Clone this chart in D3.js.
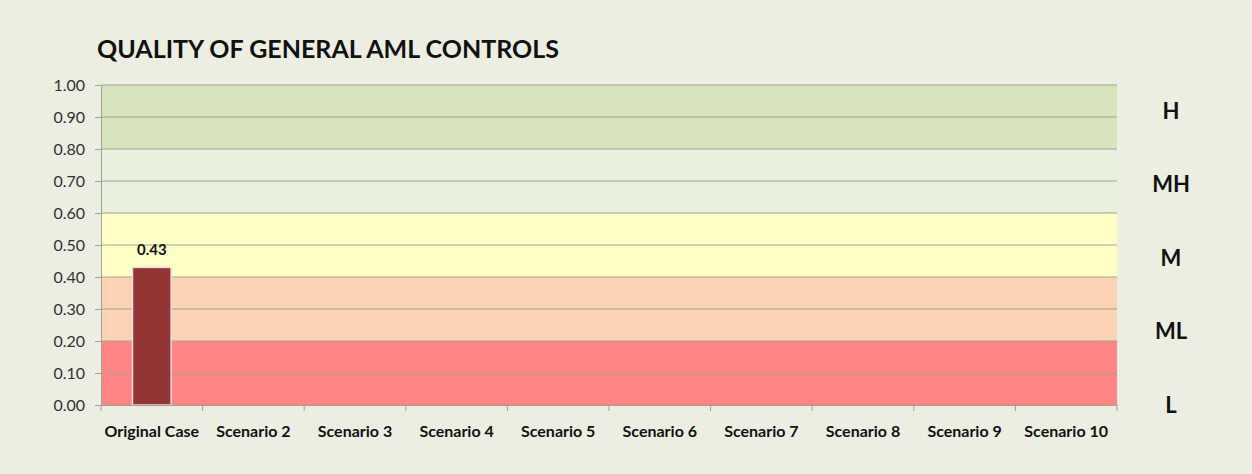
<!DOCTYPE html>
<html>
<head>
<meta charset="utf-8">
<script src="https://cdn.jsdelivr.net/npm/d3@7"></script>
<style>
  body { margin: 0; background: #ebeee1; }
  text { font-family: Lato, "Open Sans", sans-serif; }
</style>
</head>
<body>
<script>
var categories = ['Original Case', 'Scenario 2', 'Scenario 3', 'Scenario 4', 'Scenario 5',
                  'Scenario 6', 'Scenario 7', 'Scenario 8', 'Scenario 9', 'Scenario 10'];
var values = [0.43, null, null, null, null, null, null, null, null, null];
var bandLabels = ['L', 'ML', 'M', 'MH', 'H'];
var bandStops = [0, 0.2, 0.4, 0.6, 0.8, 1.0];
var bandColors = ['#ff8585', '#fcd3b4', '#ffffc6', '#e9f0dd', '#d8e4bd'];
var yTicks = [0, 0.1, 0.2, 0.3, 0.4, 0.5, 0.6, 0.7, 0.8, 0.9, 1.0];

var W = 1252, H = 474;
var margin = {top: 85, left: 101, right: 135, bottom: 69};
var width = W - margin.left - margin.right;
var height = H - margin.top - margin.bottom;
var fontStack = 'Lato, "Open Sans", sans-serif';

var svg = d3.select('body').append('svg')
  .attr('width', W)
  .attr('height', H);

svg.append('rect').attr('width', W).attr('height', H).attr('fill', '#ebeee1');

svg.append('text')
  .attr('x', 97).attr('y', 58)
  .attr('font-size', 25).attr('font-weight', 'bold').attr('fill', '#111')
  .text('QUALITY OF GENERAL AML CONTROLS');

var g = svg.append('g')
  .attr('transform', 'translate(' + margin.left + ',' + margin.top + ')');

var x = d3.scaleBand().domain(categories).range([0, width]).paddingInner(0.62).paddingOuter(0.31);
var xb = d3.scaleBand().domain(categories).range([0, width]);
var y = d3.scaleLinear().domain([0, 1]).range([height, 0]);

// colored bands
g.selectAll('.band')
  .data(bandColors)
  .enter().append('rect')
  .attr('x', 0)
  .attr('width', width)
  .attr('y', function(d, i) { return y(bandStops[i + 1]); })
  .attr('height', function(d, i) { return y(bandStops[i]) - y(bandStops[i + 1]); })
  .attr('fill', function(d) { return d; });

// gridlines
g.selectAll('.grid')
  .data(yTicks.slice(1))
  .enter().append('line')
  .attr('x1', 0).attr('x2', width)
  .attr('y1', function(d) { return y(d); })
  .attr('y2', function(d) { return y(d); })
  .attr('stroke', '#a0a395').attr('stroke-width', 1);

// bars
var bars = categories.map(function(c, i) { return {cat: c, v: values[i]}; })
  .filter(function(d) { return d.v != null; });

g.selectAll('.bar')
  .data(bars)
  .enter().append('rect')
  .attr('x', function(d) { return x(d.cat); })
  .attr('width', x.bandwidth())
  .attr('y', function(d) { return y(d.v); })
  .attr('height', function(d) { return height - y(d.v); })
  .attr('fill', '#943535')
  .attr('stroke', '#e8dcdc').attr('stroke-width', 1.5);

g.selectAll('.lbl')
  .data(bars)
  .enter().append('text')
  .attr('x', function(d) { return x(d.cat) + x.bandwidth() / 2; })
  .attr('y', function(d) { return y(d.v) - 12; })
  .attr('text-anchor', 'middle')
  .attr('font-size', 15).attr('font-weight', 'bold').attr('fill', '#111')
  .text(function(d) { return d3.format('.2f')(d.v); });

// y axis
var yAxis = g.append('g')
  .call(d3.axisLeft(y).tickValues(yTicks).tickFormat(d3.format('.2f')).tickSize(6).tickPadding(10));
yAxis.select('.domain').attr('stroke', '#a0a395');
yAxis.selectAll('.tick line').attr('stroke', '#a0a395');
yAxis.selectAll('.tick text').attr('font-size', 16).attr('fill', '#333')
  .style('font-family', fontStack);

// x axis
var xAxis = g.append('g')
  .attr('transform', 'translate(0,' + height + ')')
  .call(d3.axisBottom(xb).tickSize(0).tickPadding(21));
xAxis.select('.domain').attr('stroke', '#a0a395');
xAxis.selectAll('.tick text').attr('font-size', 16).attr('font-weight', 'bold').attr('fill', '#111')
  .style('font-family', fontStack);

g.selectAll('.xtick')
  .data(categories.concat(['end']))
  .enter().append('line')
  .attr('x1', function(d, i) { return i * xb.step(); })
  .attr('x2', function(d, i) { return i * xb.step(); })
  .attr('y1', height).attr('y2', height + 6)
  .attr('stroke', '#a0a395');

// band labels on the right, evenly spread from bottom to near top
var labelStep = 0.23;
g.selectAll('.bandlbl')
  .data(bandLabels)
  .enter().append('text')
  .attr('x', width + 54)
  .attr('y', function(d, i) { return y(i * labelStep) + 8; })
  .attr('text-anchor', 'middle')
  .attr('font-size', 22).attr('font-weight', 'bold').attr('fill', '#111')
  .text(function(d) { return d; });
</script>
</body>
</html>
